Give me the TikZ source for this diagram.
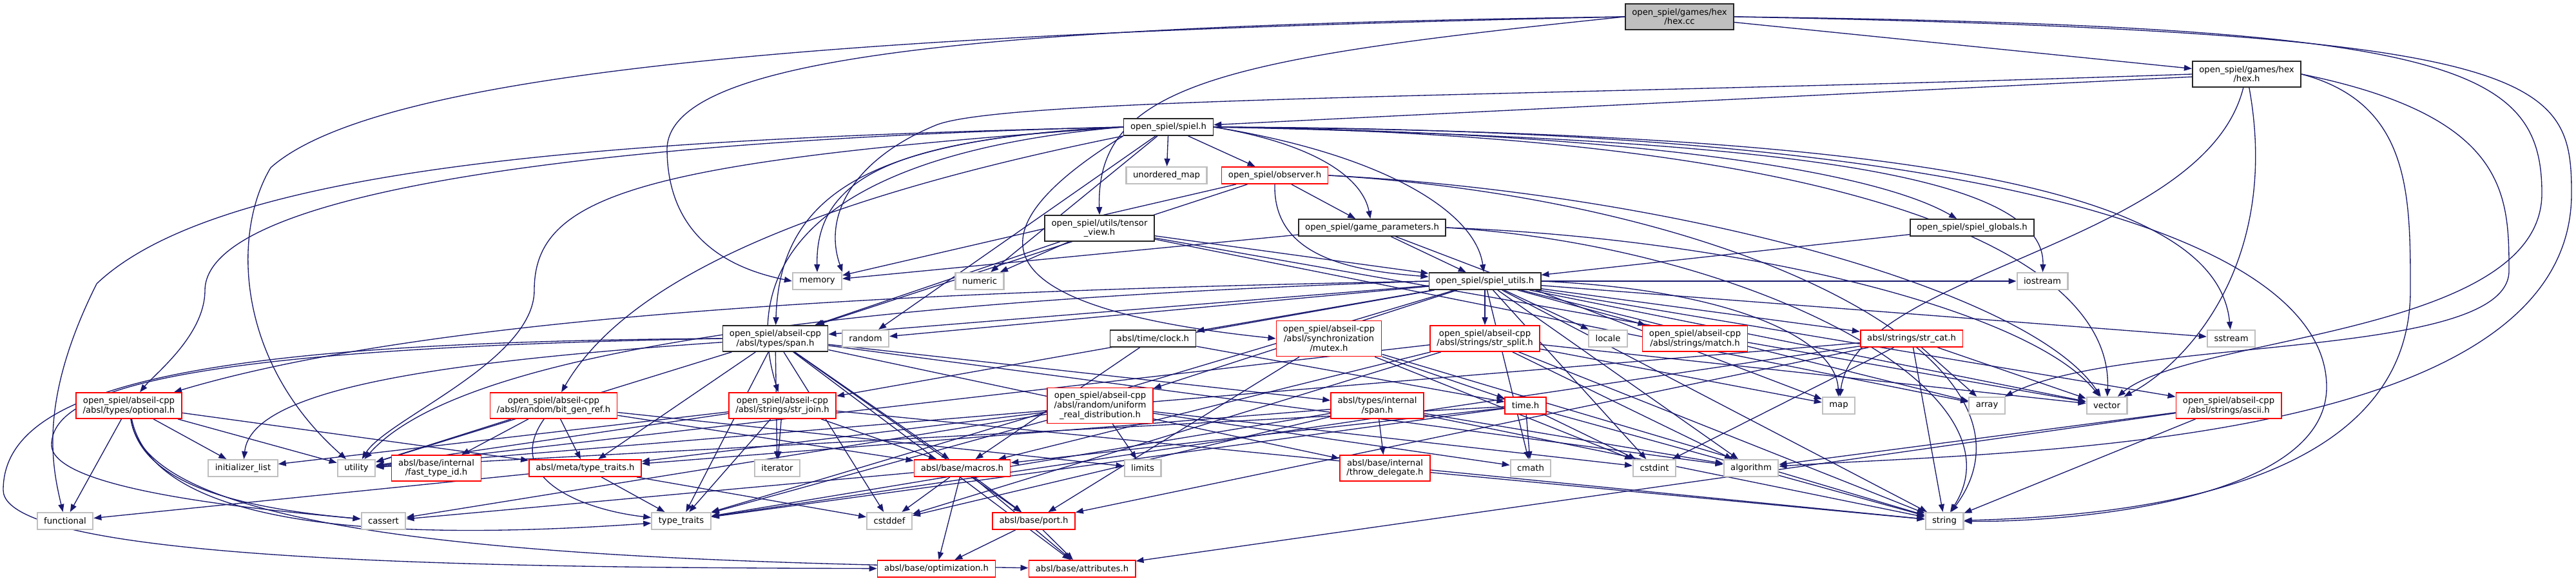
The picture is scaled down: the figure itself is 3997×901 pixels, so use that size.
\documentclass[tikz,border=0pt]{standalone}
\usepackage{fontspec}
\setmainfont{DejaVu Sans}
\usetikzlibrary{arrows.meta}
\definecolor{edgeblue}{HTML}{191970}
\definecolor{boxgray}{HTML}{BFBFBF}
\pgfdeclarelayer{bg}\pgfsetlayers{bg,main}

\begin{document}
\begin{tikzpicture}[x=0.01cm,y=-0.01cm,>={Triangle[length=0.12cm,width=0.09cm]},
 fl/.style={draw,fill=white,line width=0.5pt,inner xsep=0.105cm,inner ysep=0pt,minimum height=0.26cm,align=center,font=\fontsize{3.75}{4.2}\selectfont},
 sys/.style={fl,draw=boxgray,line width=0.6pt},
 doc/.style={fl,draw=black!85},
 trunc/.style={fl,draw=red},
 two/.style={minimum height=0.40cm},
 three/.style={minimum height=0.55cm},
 dep/.style={->,draw=edgeblue,line width=0.38pt}]
 \useasboundingbox (0,0) rectangle (3997,901);
 \node[doc,fill=boxgray,two] (hexcc) at (2606,26) {open\_spiel/games/hex\\/hex.cc};
 \node[doc,two] (hexh) at (3486,115) {open\_spiel/games/hex\\/hex.h};
 \node[doc] (spiel) at (1813,197) {open\_spiel/spiel.h};
 \node[sys] (umap) at (1810,272) {unordered\_map};
 \node[trunc] (observer) at (1978,272) {open\_spiel/observer.h};
 \node[doc,two] (tview) at (1706,354) {open\_spiel/utils/tensor\\\_view.h};
 \node[doc] (gparams) at (2129,353) {open\_spiel/game\_parameters.h};
 \node[doc] (globals) at (3060,353) {open\_spiel/spiel\_globals.h};
 \node[doc] (utils) at (2304,436) {open\_spiel/spiel\_utils.h};
 \node[sys] (memory) at (1268,436) {memory};
 \node[sys] (numeric) at (1520,436) {numeric};
 \node[sys] (iostream) at (3169,436) {iostream};
 \node[doc,two] (span) at (1203,525) {open\_spiel/abseil-cpp\\/absl/types/span.h};
 \node[sys] (random) at (1343,525) {random};
 \node[doc] (clock) at (1789,525) {absl/time/clock.h};
 \node[trunc,three] (mutex) at (2062,525) {open\_spiel/abseil-cpp\\/absl/synchronization\\/mutex.h};
 \node[trunc,two] (strsplit) at (2304,525) {open\_spiel/abseil-cpp\\/absl/strings/str\_split.h};
 \node[sys] (locale) at (2495,525) {locale};
 \node[trunc,two] (match) at (2630,525) {open\_spiel/abseil-cpp\\/absl/strings/match.h};
 \node[trunc] (strcat) at (2966,525) {absl/strings/str\_cat.h};
 \node[sys] (sstream) at (3462,525) {sstream};
 \node[trunc,two] (optional) at (200,629) {open\_spiel/abseil-cpp\\/absl/types/optional.h};
 \node[trunc,two] (bitgen) at (859,629) {open\_spiel/abseil-cpp\\/absl/random/bit\_gen\_ref.h};
 \node[trunc,two] (strjoin) at (1214,629) {open\_spiel/abseil-cpp\\/absl/strings/str\_join.h};
 \node[trunc,three] (uniform) at (1707,629) {open\_spiel/abseil-cpp\\/absl/random/uniform\\\_real\_distribution.h};
 \node[trunc,two] (ispan) at (2137,629) {absl/types/internal\\/span.h};
 \node[trunc] (timeh) at (2367,629) {time.h};
 \node[sys] (map) at (2853,629) {map};
 \node[sys] (array) at (3083,629) {array};
 \node[sys] (vector) at (3269,629) {vector};
 \node[trunc,two] (ascii) at (3458,629) {open\_spiel/abseil-cpp\\/absl/strings/ascii.h};
 \node[sys] (initlist) at (377,726) {initializer\_list};
 \node[sys] (utility) at (553,726) {utility};
 \node[trunc,two] (fasttype) at (677,726) {absl/base/internal\\/fast\_type\_id.h};
 \node[trunc] (metatt) at (908,726) {absl/meta/type\_traits.h};
 \node[sys] (iterator) at (1206,726) {iterator};
 \node[trunc] (macros) at (1493,726) {absl/base/macros.h};
 \node[sys] (limits) at (1773,726) {limits};
 \node[trunc,two] (throwdel) at (2149,726) {absl/base/internal\\/throw\_delegate.h};
 \node[sys] (cmath) at (2375,726) {cmath};
 \node[sys] (cstdint) at (2567,726) {cstdint};
 \node[sys] (algorithm) at (2717,726) {algorithm};
 \node[sys] (functional) at (101,808) {functional};
 \node[sys] (cassert) at (595,808) {cassert};
 \node[sys] (typetraits) at (1057,808) {type\_traits};
 \node[sys] (cstddef) at (1380,808) {cstddef};
 \node[trunc] (port) at (1604,808) {absl/base/port.h};
 \node[sys] (string) at (3017,808) {string};
 \node[trunc] (optim) at (1453,882) {absl/base/optimization.h};
 \node[trunc] (attrs) at (1679,882) {absl/base/attributes.h};
 \begin{pgfonlayer}{bg}
 \fill[white] (0,0) rectangle (3997,901);
 % hex.cc
 \draw[dep] (hexcc) -- (hexh);
 \draw[dep] (hexcc.west) .. controls (1500,40) and (1040,90) .. (1035,230) .. controls (1035,380) and (1150,420) .. (memory.west);
 \draw[dep] (hexcc.west) .. controls (1400,50) and (600,100) .. (420,260) .. controls (360,360) and (365,560) .. (utility);
 \draw[dep] (hexcc.west) .. controls (1900,90) and (1700,130) .. (tview.north);
 \draw[dep] (hexcc.east) .. controls (3800,40) and (3944,100) .. (3944,300) .. controls (3944,520) and (3400,520) .. (vector);
 \draw[dep] (hexcc.east) .. controls (3950,50) and (3990,120) .. (3990,300) .. controls (3990,700) and (3100,700) .. (algorithm);
 % hex.h
 \draw[dep] (hexh) -- (spiel);
 \draw[dep] (hexh.west) .. controls (2400,150) and (1550,150) .. (1450,195) .. controls (1330,245) and (1275,330) .. (memory.north east);
 \draw[dep] (hexh) .. controls (3420,380) and (2880,420) .. (map);
 \draw[dep] (hexh) .. controls (3538,400) and (3400,560) .. (vector);
 \draw[dep] (hexh.east) .. controls (3740,160) and (3740,300) .. (3740,450) .. controls (3740,760) and (3300,800) .. (string);
 \draw[dep] (hexh.east) .. controls (3890,180) and (3893,300) .. (3893,420) .. controls (3893,560) and (3300,520) .. (array);
 % spiel.h
 \draw[dep] (spiel) -- (umap);
 \draw[dep] (spiel) -- (observer);
 \draw[dep] (spiel.east) .. controls (2050,225) and (2115,280) .. (gparams);
 \draw[dep] (spiel.east) .. controls (2150,240) and (2290,330) .. (utils);
 \draw[dep] (spiel.east) .. controls (2500,205) and (2900,260) .. (globals);
 \draw[dep] (spiel.east) .. controls (2700,215) and (3175,260) .. (iostream);
 \draw[dep] (spiel.east) .. controls (3000,205) and (3440,300) .. (sstream);
 \draw[dep] (spiel.east) .. controls (3200,200) and (3610,400) .. (3610,600) .. controls (3610,780) and (3200,810) .. (string);
 \draw[dep] (spiel.east) .. controls (2900,210) and (3280,400) .. (vector);
 \draw[dep] (spiel.west) .. controls (1000,215) and (350,250) .. (150,440) .. controls (60,620) and (80,720) .. (functional);
 \draw[dep] (spiel.west) .. controls (900,218) and (320,300) .. (318,450) .. controls (318,520) and (240,580) .. (optional);
 \draw[dep] (spiel.south west) .. controls (1300,300) and (980,420) .. (bitgen);
 \draw[dep] (spiel.west) .. controls (1350,215) and (1210,300) .. (span);
 \draw[dep] (spiel.west) .. controls (1400,215) and (1265,270) .. (memory.north);
 \draw[dep] (spiel) -- (random);
 \draw[dep] (spiel) -- (numeric);
 \draw[dep] (spiel.west) .. controls (1000,250) and (829,300) .. (829,450) .. controls (829,560) and (600,650) .. (utility);
 \draw[dep] (spiel.south west) .. controls (1550,330) and (1450,470) .. (mutex.west);
 \draw[dep] (spiel.west) .. controls (1250,240) and (1150,420) .. (strjoin);
 % tensor_view.h
 \draw[dep] (tview) -- (numeric);
 \draw[dep] (tview) -- (span);
 \draw[dep] (tview) -- (utils);
 \draw[dep] (tview) -- (array);
 \draw[dep] (tview) -- (vector);
 % observer.h
 \draw[dep] (observer) -- (memory);
 \draw[dep] (observer) -- (gparams);
 \draw[dep] (observer.south) .. controls (1975,400) and (2100,420) .. (utils);
 \draw[dep] (observer) -- (span);
 \draw[dep] (observer.east) .. controls (2600,300) and (3150,450) .. (vector);
 \draw[dep] (observer.east) .. controls (2700,310) and (3200,560) .. (string);
 % game_parameters.h
 \draw[dep] (gparams) -- (utils);
 \draw[dep] (gparams) -- (memory);
 \draw[dep] (gparams) -- (map);
 \draw[dep] (gparams.east) .. controls (2700,380) and (3150,600) .. (string);
 \draw[dep] (gparams.east) .. controls (2700,370) and (3150,480) .. (vector);
 \draw[dep] (globals) -- (utils);
 % spiel_utils.h
 \draw[dep] (utils) -- (strsplit);
 \draw[dep] (utils) -- (locale);
 \draw[dep] (utils) -- (match);
 \draw[dep] (utils) -- (strcat);
 \draw[dep] (utils) -- (ascii);
 \draw[dep] (utils) -- (iostream);
 \draw[dep] (utils) -- (sstream);
 \draw[dep] (utils.east) .. controls (2700,450) and (2850,530) .. (map);
 \draw[dep] (utils) -- (clock);
 \draw[dep] (utils) -- (uniform);
 \draw[dep] (utils) -- (span);
 \draw[dep] (utils) -- (random);
 \draw[dep] (utils.west) .. controls (1500,450) and (700,480) .. (optional);
 \draw[dep] (utils) -- (strjoin);
 \draw[dep] (utils) -- (algorithm);
 \draw[dep] (utils) -- (cstdint);
 \draw[dep] (utils) -- (array);
 \draw[dep] (utils) -- (vector);
 \draw[dep] (utils) -- (string);
 \draw[dep] (utils.west) .. controls (1200,470) and (700,560) .. (utility);
 \draw[dep] (utils) -- (typetraits);
 \draw[dep] (utils) -- (cmath);
 % absl/types/span.h
 \draw[dep] (span) -- (ispan);
 \draw[dep] (span) -- (algorithm);
 \draw[dep] (span.west) .. controls (300,530) and (5,600) .. (5,760) .. controls (5,880) and (900,880) .. (optim);
 \draw[dep] (span.west) .. controls (300,540) and (80,600) .. (80,690) .. controls (80,760) and (400,790) .. (cassert);
 \draw[dep] (span) .. controls (700,560) and (390,600) .. (initlist);
 \draw[dep] (span) -- (utility);
 \draw[dep] (span) -- (typetraits);
 \draw[dep] (span) -- (iterator);
 \draw[dep] (span) -- (cstddef);
 \draw[dep] (span) -- (attrs);
 \draw[dep] (span) -- (throwdel);
 \draw[dep] (span) -- (macros);
 \draw[dep] (span) -- (port);
 \draw[dep] (span) -- (metatt);
 % optional.h
 \draw[dep] (optional) -- (functional);
 \draw[dep] (optional) -- (initlist);
 \draw[dep] (optional) -- (utility);
 \draw[dep] (optional) -- (metatt);
 \draw[dep] (optional) .. controls (220,760) and (400,790) .. (cassert);
 \draw[dep] (optional) .. controls (240,820) and (600,840) .. (typetraits);
 \draw[dep] (optional) .. controls (230,840) and (900,870) .. (attrs);
 % bit_gen_ref.h
 \draw[dep] (bitgen) -- (utility);
 \draw[dep] (bitgen) -- (fasttype);
 \draw[dep] (bitgen) -- (metatt);
 \draw[dep] (bitgen) .. controls (780,740) and (900,790) .. (typetraits);
 \draw[dep] (bitgen) -- (limits);
 \draw[dep] (bitgen) -- (macros);
 % str_join.h
 \draw[dep] (strjoin) -- (utility);
 \draw[dep] (strjoin) -- (initlist);
 \draw[dep] (strjoin) -- (iterator);
 \draw[dep] (strjoin) -- (typetraits);
 \draw[dep] (strjoin) -- (macros);
 \draw[dep] (strjoin) -- (string);
 % uniform_real_distribution.h
 \draw[dep] (uniform) -- (limits);
 \draw[dep] (uniform) -- (cassert);
 \draw[dep] (uniform) -- (typetraits);
 \draw[dep] (uniform) -- (metatt);
 \draw[dep] (uniform) -- (cmath);
 \draw[dep] (uniform) -- (cstdint);
 % clock.h, mutex.h
 \draw[dep] (clock) -- (timeh);
 \draw[dep] (clock) -- (macros);
 \draw[dep] (mutex) -- (timeh);
 \draw[dep] (mutex) -- (cstdint);
 \draw[dep] (mutex) -- (port);
 \draw[dep] (mutex) -- (string);
 % internal/span.h
 \draw[dep] (ispan) -- (throwdel);
 \draw[dep] (ispan) -- (algorithm);
 \draw[dep] (ispan) -- (cstddef);
 \draw[dep] (ispan) -- (typetraits);
 \draw[dep] (ispan) -- (metatt);
 \draw[dep] (ispan) -- (string);
 % time.h
 \draw[dep] (timeh) -- (cmath);
 \draw[dep] (timeh) -- (cstdint);
 \draw[dep] (timeh) -- (string);
 \draw[dep] (timeh) -- (utility);
 \draw[dep] (timeh) -- (typetraits);
 \draw[dep] (timeh) -- (macros);
 % str_split.h, str_cat.h, ascii.h
 \draw[dep] (strsplit) -- (map);
 \draw[dep] (strsplit) -- (algorithm);
 \draw[dep] (strsplit) -- (vector);
 \draw[dep] (strsplit) -- (string);
 \draw[dep] (strsplit) -- (cstddef);
 \draw[dep] (strsplit) -- (utility);
 \draw[dep] (strsplit) -- (macros);
 \draw[dep] (strcat) -- (array);
 \draw[dep] (strcat) -- (vector);
 \draw[dep] (strcat) -- (string);
 \draw[dep] (strcat) -- (cstdint);
 \draw[dep] (strcat) -- (port);
 \draw[dep] (strcat) -- (typetraits);
 \draw[dep] (strcat) -- (utility);
 \draw[dep] (ascii) -- (algorithm);
 \draw[dep] (ascii) -- (string);
 \draw[dep] (ascii) -- (attrs);
 % absl/base, absl/meta
 \draw[dep] (throwdel) -- (string);
 \draw[dep] (metatt) -- (functional);
 \draw[dep] (metatt) -- (typetraits);
 \draw[dep] (metatt) -- (cstddef);
 \draw[dep] (macros) -- (cassert);
 \draw[dep] (macros) -- (cstddef);
 \draw[dep] (macros) -- (optim);
 \draw[dep] (macros) -- (attrs);
 \draw[dep] (macros) -- (port);
 \draw[dep] (port) -- (optim);
 \draw[dep] (port) -- (attrs);
 \end{pgfonlayer}
\end{tikzpicture}
\end{document}
